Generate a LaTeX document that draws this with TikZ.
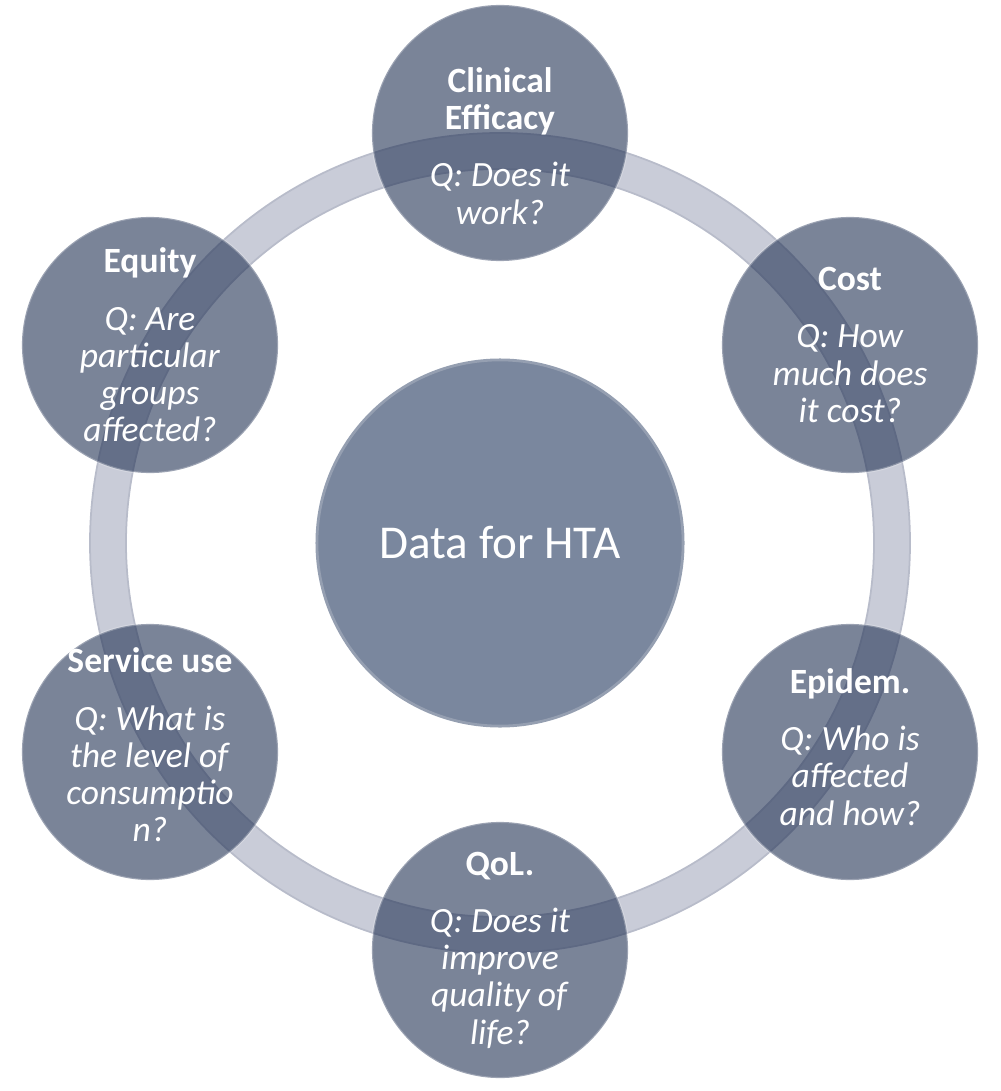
\documentclass[tikz,border=0pt]{standalone}
\usepackage{fontspec}
\setmainfont{Carlito}
\definecolor{ringgray}{RGB}{201,204,216}
\definecolor{ringedge}{RGB}{184,188,202}
\definecolor{hubblue}{RGB}{122,135,158}
\definecolor{satblue}{RGB}{34,50,84}
\begin{document}
\begin{tikzpicture}[x=0.01cm, y=-0.01cm,
    ring/.style={draw=ringgray, line width=0.36cm},
    ringline/.style={draw=ringedge, line width=0.5pt},
    hub/.style={circle, minimum size=3.66cm, inner sep=0pt, fill=hubblue, draw=hubblue!80!white, line width=0.8pt, text=white, font=\fontsize{13.4pt}{16pt}\selectfont},
    sat/.style={circle, minimum size=2.56cm, inner sep=0pt, fill=satblue, fill opacity=0.6, draw=white, draw opacity=0.25, line width=0.6pt},
    qtext/.style={align=center, text=white, font=\fontsize{10.1pt}{10.6pt}\selectfont}]
                                \useasboundingbox (0, 0) rectangle (1000, 1091);
                                \coordinate (ctr) at (500, 543);
                                \draw[ring] (ctr) circle [radius=392];
                                \draw[ringline] (ctr) circle [radius=410];
                                \draw[ringline] (ctr) circle [radius=374];
                                \node[hub] (data) at (ctr) {Data for HTA};
                                \node[sat] (eff) at (500, 133) {};
                                \node[sat] (cost) at (850, 345) {};
                                \node[sat] (epi) at (850, 752) {};
                                \node[sat] (qol) at (500, 950) {};
                                \node[sat] (serv) at (150, 752) {};
                                \node[sat] (equ) at (150, 345) {};
                                \node[qtext] (effT) at (500, 146) {\textbf{Clinical}\\\textbf{Efficacy}\\[2mm]\textit{Q: Does it}\\\textit{work?}};
                                \node[qtext] (costT) at (cost) {\textbf{Cost}\\[2mm]\textit{Q: How}\\\textit{much does}\\\textit{it cost?}};
                                \node[qtext] (epiT) at (850, 747) {\textbf{Epidem.}\\[2mm]\textit{Q: Who is}\\\textit{affected}\\\textit{and how?}};
                                \node[qtext] (qolT) at (qol) {\textbf{QoL.}\\[2mm]\textit{Q: Does it}\\\textit{improve}\\\textit{quality of}\\\textit{life?}};
                                \node[qtext] (servT) at (150, 745) {\textbf{Service use}\\[2mm]\textit{Q: What is}\\\textit{the level of}\\\textit{consumptio}\\\textit{n?}};
                                \node[qtext] (equT) at (equ) {\textbf{Equity}\\[2mm]\textit{Q: Are}\\\textit{particular}\\\textit{groups}\\\textit{affected?}};
                            \end{tikzpicture}
\end{document}
